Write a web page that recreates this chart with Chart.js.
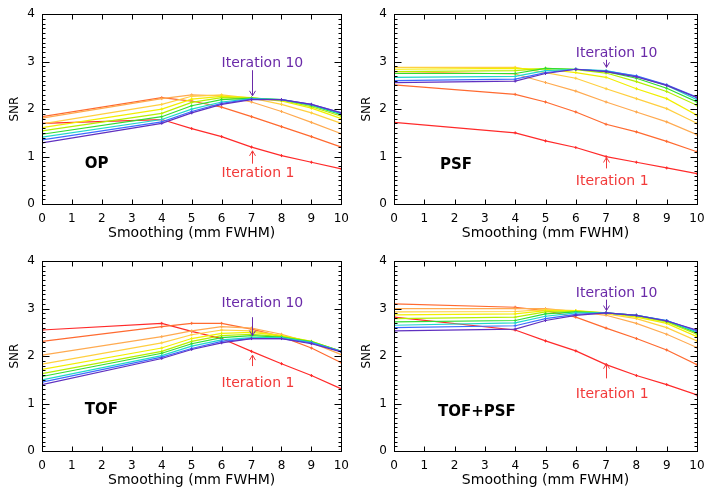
<!DOCTYPE html>
<html><head><meta charset="utf-8">
<script src="https://cdn.jsdelivr.net/npm/chart.js@4/dist/chart.umd.min.js"></script>
<style>
html,body{margin:0;padding:0;background:#fff;width:714px;height:500px;overflow:hidden}
canvas{position:absolute}
</style></head><body>
<canvas id="c1" width="357" height="250" style="left:0;top:0"></canvas>
<canvas id="c2" width="362" height="250" style="left:352px;top:0"></canvas>
<canvas id="c3" width="357" height="250" style="left:0;top:247px"></canvas>
<canvas id="c4" width="362" height="250" style="left:352px;top:247px"></canvas>
<script>
// x positions (smoothing, mm FWHM) at which SNR was measured
const smoothing = [0, 4, 5, 6, 7, 8, 9, 10];
const xTicks = [0,1,2,3,4,5,6,7,8,9,10];
const yTicks = [0,1,2,3,4];
const iterations = ['Iteration 1','Iteration 2','Iteration 3','Iteration 4','Iteration 5','Iteration 6','Iteration 7','Iteration 8','Iteration 9','Iteration 10'];
const panelNames = ['OP','PSF','TOF','TOF+PSF'];

// SNR per iteration (rows = iteration 1..10), values at the smoothing positions
const opSNR = [
  [1.70,1.78,1.59,1.42,1.20,1.02,0.88,0.74],
  [1.84,2.24,2.17,2.04,1.84,1.63,1.42,1.20],
  [1.81,2.22,2.30,2.28,2.15,1.95,1.72,1.48],
  [1.69,2.10,2.27,2.30,2.23,2.10,1.92,1.70],
  [1.61,2.00,2.21,2.27,2.24,2.17,2.02,1.80],
  [1.54,1.91,2.14,2.24,2.23,2.19,2.05,1.85],
  [1.47,1.84,2.07,2.20,2.23,2.20,2.08,1.88],
  [1.41,1.78,2.00,2.15,2.22,2.20,2.09,1.90],
  [1.35,1.73,1.95,2.12,2.21,2.20,2.10,1.92],
  [1.29,1.70,1.92,2.10,2.20,2.20,2.10,1.92]
];
const psfSNR = [
  [1.72,1.50,1.33,1.19,1.00,0.88,0.76,0.64],
  [2.51,2.31,2.15,1.94,1.68,1.52,1.32,1.10],
  [2.79,2.74,2.56,2.38,2.15,1.94,1.73,1.46],
  [2.88,2.88,2.77,2.65,2.43,2.22,2.01,1.70],
  [2.84,2.86,2.84,2.77,2.67,2.43,2.22,1.87],
  [2.79,2.81,2.86,2.83,2.76,2.58,2.37,2.08],
  [2.75,2.75,2.86,2.84,2.79,2.65,2.44,2.15],
  [2.67,2.69,2.81,2.84,2.81,2.69,2.50,2.20],
  [2.60,2.63,2.77,2.84,2.80,2.70,2.51,2.25],
  [2.56,2.59,2.75,2.84,2.79,2.68,2.50,2.24]
];
const tofSNR = [
  [2.55,2.69,2.52,2.37,2.10,1.84,1.59,1.31],
  [2.31,2.62,2.69,2.69,2.57,2.41,2.17,1.86],
  [2.02,2.41,2.53,2.62,2.59,2.46,2.28,2.03],
  [1.83,2.28,2.45,2.55,2.53,2.43,2.30,2.09],
  [1.72,2.17,2.37,2.48,2.50,2.43,2.31,2.10],
  [1.63,2.10,2.31,2.43,2.46,2.41,2.31,2.10],
  [1.57,2.06,2.26,2.39,2.43,2.40,2.30,2.10],
  [1.50,2.01,2.21,2.34,2.39,2.39,2.29,2.10],
  [1.45,1.98,2.16,2.31,2.37,2.37,2.28,2.10],
  [1.40,1.95,2.14,2.28,2.37,2.37,2.26,2.09]
];
const tofPsfSNR = [
  [2.82,2.55,2.32,2.11,1.82,1.59,1.40,1.18],
  [3.10,3.03,2.96,2.82,2.59,2.37,2.13,1.82],
  [3.00,3.00,3.00,2.94,2.86,2.69,2.46,2.18],
  [2.93,2.94,2.98,2.96,2.89,2.79,2.60,2.32],
  [2.87,2.89,2.96,2.96,2.91,2.82,2.69,2.41],
  [2.79,2.82,2.93,2.94,2.91,2.84,2.72,2.46],
  [2.72,2.75,2.89,2.93,2.91,2.86,2.74,2.49],
  [2.65,2.70,2.84,2.91,2.91,2.86,2.75,2.51],
  [2.60,2.64,2.79,2.88,2.91,2.86,2.75,2.53],
  [2.53,2.57,2.75,2.86,2.91,2.86,2.74,2.55]
];

const iterColors = ['#ff2a2a','#ff6a30','#ffaa50','#ffcf40','#f2ee00','#b4ee00','#30dd30','#20d8c8','#3c6cff','#6030c0'];

const decor = {
  id: 'decor',
  afterDatasetsDraw(chart, args, opts) {
    const {ctx, chartArea: a, scales: {x, y}} = chart;
    ctx.save();
    ctx.strokeStyle = '#000'; ctx.lineWidth = 1;
    const L = Math.round(a.left) + 0.5, R = Math.round(a.right) + 0.5;
    const T = Math.round(a.top) + 0.5, B = Math.round(a.bottom) + 0.5;
    ctx.strokeRect(L, T, R - L, B - T);
    ctx.beginPath();
    for (const v of xTicks) {
      const px = Math.round(x.getPixelForValue(v)) + 0.5;
      ctx.moveTo(px, B); ctx.lineTo(px, B - 5);
      ctx.moveTo(px, T); ctx.lineTo(px, T + 5);
    }
    for (let k = 0; k <= 40; k++) {
      const len = k % 10 === 0 ? 7 : 3;
      const py = Math.round(y.getPixelForValue(k / 10)) + 0.5;
      ctx.moveTo(L, py); ctx.lineTo(L + len, py);
      ctx.moveTo(R, py); ctx.lineTo(R - len, py);
    }
    ctx.stroke();
    ctx.fillStyle = '#000';
    ctx.font = 'bold 15px "DejaVu Sans"';
    ctx.textAlign = 'left'; ctx.textBaseline = 'middle';
    ctx.fillText(opts.label, x.getPixelForValue(opts.labelAt[0]), y.getPixelForValue(opts.labelAt[1]));
    ctx.font = '14px "DejaVu Sans"';
    for (const n of opts.notes) {
      ctx.fillStyle = n.color; ctx.strokeStyle = n.color;
      ctx.fillText(n.text, x.getPixelForValue(n.tx), y.getPixelForValue(n.ty));
      const ax = Math.round(x.getPixelForValue(n.ax)) + 0.5;
      const y1 = y.getPixelForValue(n.a1), y2 = y.getPixelForValue(n.a2);
      const dir = y2 > y1 ? -1 : 1;
      ctx.beginPath();
      ctx.moveTo(ax, y1); ctx.lineTo(ax, y2);
      ctx.moveTo(ax - 3, y2 + dir * 5); ctx.lineTo(ax, y2); ctx.lineTo(ax + 3, y2 + dir * 5);
      ctx.stroke();
    }
    ctx.restore();
  }
};

function makePanel(id, values, rightPad, label, labelAt, notes) {
  const datasets = values.map((row, i) => ({
    label: iterations[i],
    data: row.map((v, j) => ({x: smoothing[j], y: v})),
    borderColor: iterColors[i],
    backgroundColor: iterColors[i],
    borderWidth: 1.2,
    pointStyle: 'cross',
    pointRadius: 1.5,
    pointBorderWidth: 1,
    tension: 0,
    order: 9 - i
  }));
  new Chart(document.getElementById(id), {
    type: 'line',
    data: {datasets},
    plugins: [decor],
    options: {
      responsive: false, animation: false, devicePixelRatio: 1,
      layout: {padding: {left: 0, right: rightPad, top: 11, bottom: 4}},
      plugins: {
        legend: {display: false}, tooltip: {enabled: false},
        decor: {label, labelAt, notes}
      },
      scales: {
        x: {
          type: 'linear', min: 0, max: 10,
          afterBuildTicks: s => { s.ticks = xTicks.map(v => ({value: v})); },
          afterFit: s => { s.height = 42; },
          grid: {display: false, drawTicks: false}, border: {display: false},
          ticks: {padding: 8, color: '#000', font: {family: 'DejaVu Sans', size: 12}, maxRotation: 0, autoSkip: false},
          title: {display: true, text: 'Smoothing (mm FWHM)', color: '#000', font: {family: 'DejaVu Sans', size: 14}, padding: {top: 0, bottom: 4}}
        },
        y: {
          type: 'linear', min: 0, max: 4,
          afterBuildTicks: s => { s.ticks = yTicks.map(v => ({value: v})); },
          afterFit: s => { s.width = 42; },
          grid: {display: false, drawTicks: false}, border: {display: false},
          ticks: {padding: 7, color: '#000', font: {family: 'DejaVu Sans', size: 12}},
          title: {display: true, text: 'SNR', color: '#000', font: {family: 'DejaVu Sans', size: 12}, padding: {top: 8, bottom: 0}}
        }
      }
    }
  });
}

const purple = '#6a2aa8', red = '#f23a3a';
makePanel('c1', opSNR, 14, panelNames[0], [1.43, 0.85], [
  {text: 'Iteration 10', color: purple, tx: 6.0, ty: 2.96, ax: 7, a1: 2.82, a2: 2.28},
  {text: 'Iteration 1', color: red, tx: 6.0, ty: 0.64, ax: 7, a1: 0.85, a2: 1.12}
]);
makePanel('c2', psfSNR, 17, panelNames[1], [1.52, 0.83], [
  {text: 'Iteration 10', color: purple, tx: 6.0, ty: 3.17, ax: 7, a1: 3.04, a2: 2.88},
  {text: 'Iteration 1', color: red, tx: 6.0, ty: 0.48, ax: 7, a1: 0.75, a2: 0.98}
]);
makePanel('c3', tofSNR, 14, panelNames[2], [1.43, 0.87], [
  {text: 'Iteration 10', color: purple, tx: 6.0, ty: 3.11, ax: 7, a1: 2.82, a2: 2.43},
  {text: 'Iteration 1', color: red, tx: 6.0, ty: 1.42, ax: 7, a1: 1.79, a2: 2.02}
]);
makePanel('c4', tofPsfSNR, 17, panelNames[3], [1.45, 0.83], [
  {text: 'Iteration 10', color: purple, tx: 6.0, ty: 3.32, ax: 7, a1: 3.19, a2: 2.96},
  {text: 'Iteration 1', color: red, tx: 6.0, ty: 1.20, ax: 7, a1: 1.53, a2: 1.84}
]);
</script>
</body></html>
